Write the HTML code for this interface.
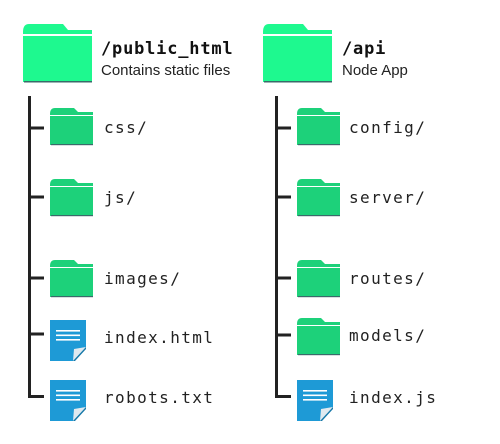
<!DOCTYPE html>
<html><head><meta charset="utf-8"><style>
html,body{margin:0;padding:0;background:#fff;width:500px;height:444px;overflow:hidden}
svg{display:block}
.m{font-family:"DejaVu Sans Mono","Liberation Mono",monospace;font-size:16px;letter-spacing:1.4px;fill:#222}
.t{font-family:"DejaVu Sans Mono","Liberation Mono",monospace;font-size:17px;font-weight:bold;letter-spacing:0.8px;fill:#111}
.s{font-family:"Liberation Sans",sans-serif;font-size:15px;fill:#222}
</style></head><body>
<svg width="500" height="444" viewBox="0 0 500 444" xmlns="http://www.w3.org/2000/svg">
<defs>
<g id="bf">
<path d="M0,8 Q0,0 6,0 L40,0 L45,6 L69,6 L69,10 L0,10 Z" fill="#1ef98f"/>
<rect x="0" y="12" width="69" height="46" fill="#1ef98f"/>
<rect x="1" y="57" width="68" height="1.5" fill="#3a6a6a"/>
</g>
<g id="sf">
<path d="M0,6 Q0,0 5,0 L24,0 L28,4 L43,4 L43,7 L0,7 Z" fill="#1dd17a"/>
<rect x="0" y="8" width="43" height="29" fill="#1dd17a"/>
<rect x="1" y="36" width="42" height="1.2" fill="#3a6a6a"/>
</g>
<g id="fi">
<path d="M0,0 L36,0 L36,27 L23,41 L0,41 Z" fill="#1e9ad6"/>
<path d="M23,41 L24,29 L36,27 Z" fill="#dfe9ef"/>
<path d="M23,41 L36,27 L36,29 L25,41 Z" fill="#1678a8"/>
<rect x="6" y="10" width="24" height="1.6" fill="#fff"/>
<rect x="6" y="14.5" width="24" height="1.6" fill="#fff"/>
<rect x="6" y="19" width="24" height="1.6" fill="#fff"/>
</g>
</defs>
<use href="#bf" x="23" y="24"/>
<text class="t" x="101" y="54">/public_html</text>
<text class="s" x="101" y="75">Contains static files</text>
<rect x="28" y="96" width="3" height="302" fill="#222"/>
<rect x="28" y="126.5" width="16" height="3" fill="#222"/>
<rect x="28" y="195.5" width="16" height="3" fill="#222"/>
<rect x="28" y="276.5" width="16" height="3" fill="#222"/>
<rect x="28" y="332.5" width="16" height="3" fill="#222"/>
<rect x="28" y="395" width="16" height="3" fill="#222"/>
<use href="#sf" x="50" y="108"/>
<use href="#sf" x="50" y="179"/>
<use href="#sf" x="50" y="260"/>
<use href="#fi" x="50" y="320"/>
<use href="#fi" x="50" y="380"/>
<text class="m" x="104" y="133">css/</text>
<text class="m" x="104" y="203">js/</text>
<text class="m" x="104" y="284">images/</text>
<text class="m" x="104" y="343">index.html</text>
<text class="m" x="104" y="403">robots.txt</text>
<use href="#bf" x="263" y="24"/>
<text class="t" x="342" y="54">/api</text>
<text class="s" x="342" y="75">Node App</text>
<rect x="275" y="96" width="3" height="302" fill="#222"/>
<rect x="275" y="126.5" width="16" height="3" fill="#222"/>
<rect x="275" y="195.5" width="16" height="3" fill="#222"/>
<rect x="275" y="276.5" width="16" height="3" fill="#222"/>
<rect x="275" y="333.5" width="16" height="3" fill="#222"/>
<rect x="275" y="395" width="16" height="3" fill="#222"/>
<use href="#sf" x="297" y="108"/>
<use href="#sf" x="297" y="179"/>
<use href="#sf" x="297" y="260"/>
<use href="#sf" x="297" y="318"/>
<use href="#fi" x="297" y="380"/>
<text class="m" x="349" y="133">config/</text>
<text class="m" x="349" y="203">server/</text>
<text class="m" x="349" y="284">routes/</text>
<text class="m" x="349" y="341">models/</text>
<text class="m" x="349" y="403">index.js</text>
</svg>
</body></html>
